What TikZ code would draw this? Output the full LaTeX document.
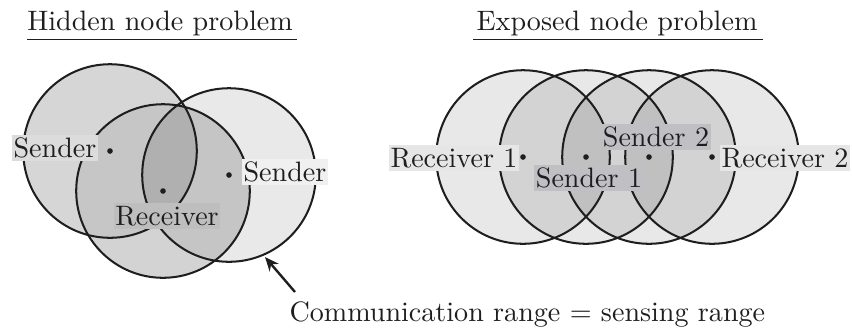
\documentclass[tikz,border=0pt]{standalone}
\usetikzlibrary{arrows.meta}

\definecolor{ink}{HTML}{1E1E1E}
% left panel region shades
\definecolor{shA}{HTML}{D6D6D6}
\definecolor{shB}{HTML}{D3D3D3}
\definecolor{shC}{HTML}{E9E9E9}
\definecolor{shAB}{HTML}{C6C6C6}
\definecolor{shAC}{HTML}{C8C8C8}
\definecolor{shBC}{HTML}{C5C5C5}
\definecolor{shABC}{HTML}{B0B0B0}
% label backgrounds
\definecolor{lbA}{HTML}{DCDCDC}
\definecolor{lbR}{HTML}{BEBEBE}
\definecolor{lbC}{HTML}{F0F0F0}
\definecolor{lbRx}{HTML}{E6E6E6}
\definecolor{lbS}{HTML}{C0C0C4}

\tikzset{
  rangering/.style={draw=ink, line width=0.72pt},
  station/.style={fill=ink},
  tag/.style={inner xsep=0.6pt, inner ysep=1.1pt, text=ink},
  heading/.style={anchor=base, text=ink},
  titlerule/.style={draw=ink, line width=0.6pt},
  pointer/.style={draw=ink, line width=0.85pt, -{Stealth[length=5pt,width=4.2pt]}}
}

\newcommand{\Rad}{30.9pt}
\newcommand{\Dot}{1pt}

\begin{document}
\begin{tikzpicture}[x=0.356pt, y=-0.356pt]
\useasboundingbox (0,0) rectangle (852,329);

% ---------- hidden node problem ----------
\coordinate (A) at (110,151);
\coordinate (B) at (163,191);
\coordinate (C) at (229,175);

\fill[shA] (A) circle[radius=\Rad];
\fill[shB] (B) circle[radius=\Rad];
\fill[shC] (C) circle[radius=\Rad];
\begin{scope}
  \clip (A) circle[radius=\Rad];
  \fill[shAB] (B) circle[radius=\Rad];
\end{scope}
\begin{scope}
  \clip (A) circle[radius=\Rad];
  \fill[shAC] (C) circle[radius=\Rad];
\end{scope}
\begin{scope}
  \clip (B) circle[radius=\Rad];
  \fill[shBC] (C) circle[radius=\Rad];
\end{scope}
\begin{scope}
  \clip (A) circle[radius=\Rad];
  \clip (B) circle[radius=\Rad];
  \fill[shABC] (C) circle[radius=\Rad];
\end{scope}
\foreach \p in {A,B,C} \draw[rangering] (\p) circle[radius=\Rad];
\foreach \p in {A,B,C} \fill[station] (\p) circle[radius=\Dot];

\node[tag, fill=lbA] (sA) at (55,148) {Sender};
\node[tag, fill=lbR] (rB) at (167,216) {Receiver};
\node[tag, fill=lbC] (sC) at (285,172) {Sender};

\node[heading] (t1) at (160,30.7) {Hidden node problem};
\draw[titlerule] (27,39.5) -- (297,39.5);

% ---------- exposed node problem ----------
\coordinate (P1) at (523,157);
\coordinate (P2) at (586,157);
\coordinate (P3) at (649,157);
\coordinate (P4) at (712,157);

\foreach \p in {P1,P2,P3,P4}
  \fill[black, fill opacity=0.09] (\p) circle[radius=\Rad];
\foreach \p in {P1,P2,P3,P4} \draw[rangering] (\p) circle[radius=\Rad];
\foreach \p in {P1,P2,P3,P4} \fill[station] (\p) circle[radius=\Dot];

\node[tag, fill=lbRx] (r1) at (454,158) {Receiver 1};
\node[tag, fill=lbS] (s1) at (589,178) {Sender 1};
\node[tag, fill=lbS] (s2) at (656,137) {Sender 2};
\node[tag, fill=lbRx] (r2) at (785,158) {Receiver 2};

\node[heading] (t2) at (617,30.7) {Exposed node problem};
\draw[titlerule] (473,39.5) -- (763,39.5);

% ---------- range annotation ----------
\node[anchor=base west, inner sep=0pt, text=ink] (note) at (289,321.7)
  {Communication range $=$ sensing range};
\coordinate (tail) at (295,292);
\coordinate (tip) at (265,257);
\draw[pointer] (tail) -- (tip);

\end{tikzpicture}
\end{document}
